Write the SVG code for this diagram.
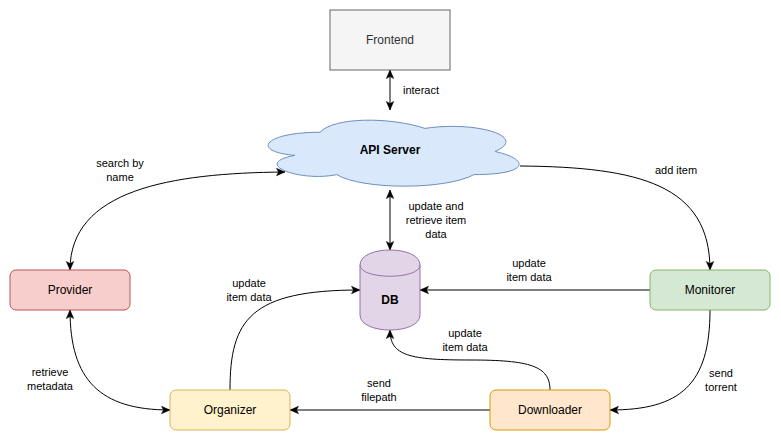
<svg xmlns="http://www.w3.org/2000/svg" width="781" height="441" viewBox="0 0 781 441">
<style>
  .node text, text.lbl { font-family: "Liberation Sans", Arial, Helvetica, sans-serif; }
  .nt { font-size: 12px; text-anchor: middle; fill: #000; }
  .bold { font-weight: bold; }
  .lbl { font-size: 11px; text-anchor: middle; fill: #000; }
  .edge { fill: none; stroke: #000; stroke-width: 1; }
</style>
<defs>
  <marker id="arr" viewBox="0 0 10 10" refX="9.5" refY="5" markerWidth="10" markerHeight="10" markerUnits="userSpaceOnUse" orient="auto-start-reverse">
    <path d="M1,1.3 L9.5,5 L1,8.7 L3,5 Z" fill="#000" stroke="#000" stroke-width="0.5"/>
  </marker>
</defs>
<rect width="781" height="441" fill="#fff"/>

<g id="connectors">
  <g id="e-frontend-api">
    <path class="edge" d="M390,70 L390,110" marker-start="url(#arr)" marker-end="url(#arr)"/>
    <text class="lbl" x="421" y="94">interact</text>
  </g>
  <g id="e-api-db">
    <path class="edge" d="M390,190 L390,250" marker-start="url(#arr)" marker-end="url(#arr)"/>
    <text class="lbl" x="436" y="210">update and</text>
    <text class="lbl" x="436" y="224">retrieve item</text>
    <text class="lbl" x="436" y="238">data</text>
  </g>
  <g id="e-api-provider">
    <path class="edge" d="M285,172 C170,173 70,190 70,270" marker-start="url(#arr)" marker-end="url(#arr)"/>
    <text class="lbl" x="120" y="167">search by</text>
    <text class="lbl" x="120" y="181">name</text>
  </g>
  <g id="e-api-monitorer">
    <path class="edge" d="M520,166 C640,167 710,185 710,270" marker-end="url(#arr)"/>
    <text class="lbl" x="676" y="174">add item</text>
  </g>
  <g id="e-monitorer-db">
    <path class="edge" d="M650,290 L420,290" marker-end="url(#arr)"/>
    <text class="lbl" x="529" y="267">update</text>
    <text class="lbl" x="529" y="281">item data</text>
  </g>
  <g id="e-monitorer-downloader">
    <path class="edge" d="M710,310 C710,385 680,410 610,410" marker-end="url(#arr)"/>
    <text class="lbl" x="721" y="377">send</text>
    <text class="lbl" x="721" y="391">torrent</text>
  </g>
  <g id="e-downloader-organizer">
    <path class="edge" d="M490,410 L290,410" marker-end="url(#arr)"/>
    <text class="lbl" x="379" y="387">send</text>
    <text class="lbl" x="379" y="401">filepath</text>
  </g>
  <g id="e-downloader-db">
    <path class="edge" d="M550,390 C550,366 530,360 470,360 C410,360 390,356 390,330" marker-end="url(#arr)"/>
    <text class="lbl" x="465" y="337">update</text>
    <text class="lbl" x="465" y="351">item data</text>
  </g>
  <g id="e-organizer-db">
    <path class="edge" d="M230,390 C230,320 250,290 360,290" marker-end="url(#arr)"/>
    <text class="lbl" x="249" y="287">update</text>
    <text class="lbl" x="249" y="301">item data</text>
  </g>
  <g id="e-provider-organizer">
    <path class="edge" d="M70,310 C70,380 100,410 170,410" marker-start="url(#arr)" marker-end="url(#arr)"/>
    <text class="lbl" x="50" y="376">retrieve</text>
    <text class="lbl" x="50" y="390">metadata</text>
  </g>
</g>

<g id="frontend" class="node">
  <rect x="330" y="10" width="120" height="60" fill="#f5f5f5" stroke="#666666"/>
  <text class="nt" x="390" y="44" fill="#333333" style="fill:#333333">Frontend</text>
</g>
<g id="api-server" class="node">
  <path d="M320,132.25 C264,132.25 250,151.5 294.8,155.35 C250,163.82 300.4,182.3 336.8,174.6 C362,190 446,190 474,174.6 C530,174.6 530,159.2 495,151.5 C530,136.1 474,120.7 425,128.4 C390,116.85 334,116.85 320,132.25 Z" fill="#dae8fc" stroke="#6c8ebf"/>
  <text class="nt bold" x="390" y="154">API Server</text>
</g>
<g id="db" class="node">
  <path d="M360,265 C360,245 420,245 420,265 L420,315 C420,335 360,335 360,315 Z" fill="#e1d5e7" stroke="#9673a6"/>
  <path d="M360,265 C360,280 420,280 420,265" fill="none" stroke="#9673a6"/>
  <text class="nt bold" x="390" y="304">DB</text>
</g>
<g id="provider" class="node">
  <rect x="10" y="270" width="120" height="40" rx="6" fill="#f8cecc" stroke="#b85450"/>
  <text class="nt" x="70" y="294">Provider</text>
</g>
<g id="monitorer" class="node">
  <rect x="650" y="270" width="120" height="40" rx="6" fill="#d5e8d4" stroke="#82b366"/>
  <text class="nt" x="710" y="294">Monitorer</text>
</g>
<g id="organizer" class="node">
  <rect x="170" y="390" width="120" height="40" rx="6" fill="#fff2cc" stroke="#d6b656"/>
  <text class="nt" x="230" y="414">Organizer</text>
</g>
<g id="downloader" class="node">
  <rect x="490" y="390" width="120" height="40" rx="6" fill="#ffe6cc" stroke="#d79b00"/>
  <text class="nt" x="550" y="414">Downloader</text>
</g>
</svg>
